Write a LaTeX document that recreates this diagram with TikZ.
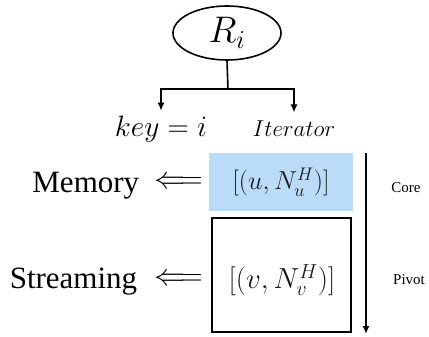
\RequirePackage{fix-cm}
\documentclass[tikz,border=0pt]{standalone}
\usepackage{fontspec}
\setmainfont{Liberation Serif}
\usetikzlibrary{shapes.geometric,arrows.meta}
\definecolor{memblue}{RGB}{187,220,249}
\definecolor{mathgray}{RGB}{25,25,25}
\begin{document}
\begin{tikzpicture}[x=1pt,y=-1pt,
  line width=1.6pt,
  conn/.style={line width=1.6pt},
  tip/.style={-{Latex[length=8pt,width=7pt]}},
  bigtxt/.style={font=\fontsize{31}{31}\selectfont,inner sep=0pt},
  smalltxt/.style={font=\fontsize{15}{15}\selectfont,inner sep=0pt},
  boxmath/.style={text=mathgray,inner sep=0pt}]
\useasboundingbox (0,0) rectangle (429,337);
% root
\node[ellipse,draw,line width=1.6pt,minimum width=108pt,minimum height=54pt,inner sep=0pt,
  font=\fontsize{37}{37}\selectfont] (Ri) at (227,33) {$R_i$};
\coordinate (j) at (228,89);
\node[anchor=base,inner sep=0pt,font=\fontsize{29.5}{29.5}\selectfont] (key) at (161,137) {$key=i$};
\node[anchor=base,inner sep=0pt,font=\fontsize{23}{23}\selectfont] (it) at (294,136) {$Iterator$};
\draw[conn] (Ri.south) -- (j);
\draw[conn,tip] (j) -| ([yshift=5pt]key.north);
\draw[conn,tip] (j) -| ([yshift=7pt]it.north);
% boxes
\node[fill=memblue,minimum width=144pt,minimum height=58pt,boxmath,
  font=\fontsize{26}{26}\selectfont] (mem) at (281,182) {$[(u,N_u^H)]$};
\node[draw,line width=1.6pt,minimum width=139pt,minimum height=114pt,inner sep=0pt] (str) at (281.5,275) {};
\node[boxmath,font=\fontsize{29}{29}\selectfont] (strmath) at (282,280) {$[(v,N_v^H)]$};
% left labels
\node[bigtxt,anchor=base east] (memtxt) at (140,193) {Memory};
\node[bigtxt] (arr1) at (178.5,183) {$\Longleftarrow$};
\node[bigtxt,anchor=base east] (strtxt) at (138,288) {Streaming};
\node[bigtxt] (arr2) at (178.5,280) {$\Longleftarrow$};
% right arrow
\coordinate (vt) at (366,153);
\coordinate (vb) at (366,334);
\draw[conn,tip] (vt) -- (vb);
\node[smalltxt] (core) at (406,188) {Core};
\node[smalltxt] (pivot) at (409,280) {Pivot};
\end{tikzpicture}
\end{document}
